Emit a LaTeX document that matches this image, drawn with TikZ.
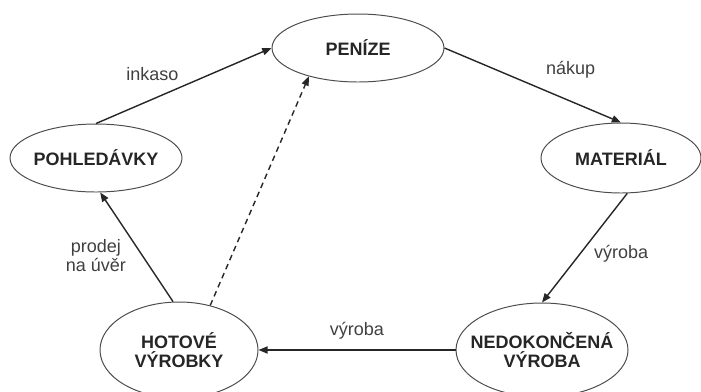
\documentclass[tikz,border=0pt]{standalone}
\usepackage{fontspec}
\setmainfont{Liberation Sans}
\usetikzlibrary{shapes.geometric,arrows.meta}

\begin{document}
\begin{tikzpicture}[
        >={Triangle[length=2.3mm,width=1.8mm]},
        phase/.style={draw=black!70, ellipse, line width=0.7pt, inner xsep=-0.3cm, inner ysep=0pt, align=center, text=black!85, font=\fontsize{12.8}{13.5}\selectfont\bfseries},
        flow/.style={->, draw=black!85, line width=1pt},
        flowlabel/.style={font=\fontsize{12.8}{13.5}\selectfont, text=black!75, align=center}
    ]
        \useasboundingbox (0,0) rectangle (17.525,-9.775);
        \clip (0,0) rectangle (17.525,-9.775);

        % Phases of the cycle
        \node (penize) [phase, minimum width=4.3cm, minimum height=1.7cm] at (8.95,-1.2) {PENÍZE};
        \node (pohledavky) [phase, minimum width=4.3cm, minimum height=1.7cm] at (2.4,-3.95) {POHLEDÁVKY};
        \node (material) [phase, minimum width=4.0cm, minimum height=1.75cm] at (15.525,-3.95) {MATERIÁL};
        \node (hotove) [phase, minimum width=3.95cm, minimum height=2.4cm] at (4.475,-8.75) {HOTOVÉ\\VÝROBKY};
        \node (nedokoncena) [phase, minimum width=4.3cm, minimum height=2.35cm] at (13.55,-8.75) {NEDOKONČENÁ\\VÝROBA};

        % Flows between phases
        \draw[flow] (pohledavky.north) -- node[flowlabel, above left] (inkaso) {inkaso} (penize.west);
        \draw[flow] (penize.east) -- node[flowlabel, above right, xshift=0.2cm, yshift=0.05cm] (nakup) {nákup} (material.north);
        \draw[flow] (material.-80) -- node[flowlabel, pos=0.55, right=6pt] (vyrobaA) {výroba} (nedokoncena.north);
        \draw[flow] (nedokoncena.west) -- node[flowlabel, above=4pt] (vyrobaB) {výroba} (hotove.east);
        \draw[flow] (hotove.97) -- node[flowlabel, pos=0.42, left=8pt] (prodej) {prodej\\na úvěr} (pohledavky.-83);

        % Shortcut back to cash
        \draw[flow, dash pattern=on 4pt off 3pt] (hotove.55) -- (penize.210);
    \end{tikzpicture}
\end{document}
